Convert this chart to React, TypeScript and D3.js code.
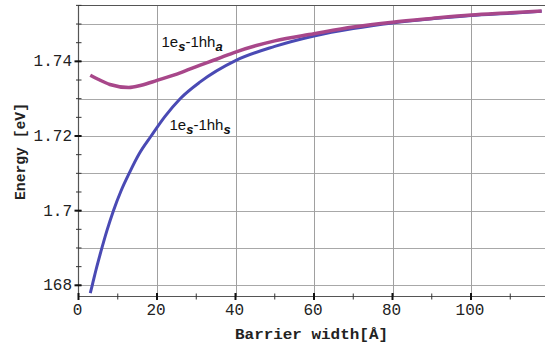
import React from "react";
import * as d3 from "d3";

// barrier width [Å] and transition energies [eV]
const symWidth = [3, 3.5, 4.5, 5.7, 7.2, 8.9, 10.8, 13, 15.5, 18.5, 22, 25.9, 31, 40, 50, 60, 70, 80, 90, 100, 110, 118];
const symEnergy = [1.6779, 1.68, 1.6843, 1.689, 1.6945, 1.7, 1.7052, 1.7102, 1.7153, 1.72, 1.7252, 1.73, 1.7345, 1.7402, 1.744, 1.7468, 1.7488, 1.7503, 1.7514, 1.7523, 1.7529, 1.7534];

const asymWidth = [3, 5, 8, 12.8, 16, 20, 25.9, 31, 35, 40, 50, 60, 70, 80, 90, 100, 110, 118];
const asymEnergy = [1.7363, 1.7352, 1.7338, 1.733, 1.7336, 1.7349, 1.7369, 1.739, 1.7405, 1.7425, 1.7455, 1.7474, 1.7492, 1.7505, 1.7515, 1.7524, 1.753, 1.7535];

const xLabels = [0, 20, 40, 60, 80, 100];
const yLabels = [1.68, 1.7, 1.72, 1.74];
const yLabelText = ["168", "1.7", "1.72", "1.74"];

const W = 545, H = 345;
const left = 78.5, top = 5, bottom = 296.5;

const mono = { fontFamily: "'Liberation Mono', 'Courier New', 'DejaVu Sans Mono', monospace" };
const sans = { fontFamily: "'Liberation Sans', Arial, sans-serif" };

export default function App() {
  const x = d3.scaleLinear().domain([0, 120]).range([left, left + 120 * 3.925]);
  const y = d3.scaleLinear().domain([1.677, 1.7551]).range([bottom, top]);

  const line = d3.line<[number, number]>()
    .curve(d3.curveMonotoneX)
    .x(d => x(d[0]))
    .y(d => y(d[1]));

  const symPts = symWidth.map((w, i) => [w, symEnergy[i]] as [number, number]);
  const asymPts = asymWidth.map((w, i) => [w, asymEnergy[i]] as [number, number]);

  const yMinor = d3.range(1.68, 1.7551, 0.005);
  const yGrid = d3.range(1.68, 1.751, 0.01);
  const xMinor = d3.range(10, 120, 10);
  const xGrid = [20, 40, 60, 80, 100];

  return (
    <svg width={W} height={H} style={{ position: "absolute", left: 0, top: 0, background: "#fff" }}>
      {/* grid */}
      {yGrid.map(v => (
        <line key={"gy" + v} x1={left} x2={W} y1={Math.round(y(v)) + 0.5} y2={Math.round(y(v)) + 0.5} stroke="#a8a8a8" strokeWidth={1} />
      ))}
      {xGrid.map(v => (
        <line key={"gx" + v} x1={Math.round(x(v)) + 0.5} x2={Math.round(x(v)) + 0.5} y1={top} y2={bottom} stroke="#a0a0a0" strokeWidth={1} />
      ))}
      {/* frame */}
      <line x1={left} x2={W} y1={top + 0.5} y2={top + 0.5} stroke="#555" strokeWidth={1.2} />
      <line x1={left} x2={left} y1={top} y2={bottom} stroke="#555" strokeWidth={1.2} />
      <line x1={left} x2={W} y1={bottom} y2={bottom} stroke="#555" strokeWidth={1.2} />

      {/* y ticks */}
      {yMinor.map(v => (
        <line key={"ty" + v} x1={left - 2.5} x2={left + 3} y1={y(v)} y2={y(v)} stroke="#333" strokeWidth={1} />
      ))}
      {yLabels.map((v, i) => (
        <g key={"yl" + v}>
          <line x1={left - 4} x2={left + 3} y1={y(v)} y2={y(v)} stroke="#111" strokeWidth={2} />
          <text x={72} y={y(v) + 5} textAnchor="end" style={mono} fontSize={16} fill="#222">{yLabelText[i]}</text>
        </g>
      ))}

      {/* x ticks */}
      {xMinor.map(v => (
        <line key={"tx" + v} x1={x(v)} x2={x(v)} y1={bottom - 3} y2={bottom + 3} stroke="#333" strokeWidth={1} />
      ))}
      {xLabels.map(v => (
        <g key={"xl" + v}>
          <line x1={x(v)} x2={x(v)} y1={bottom - 3.5} y2={bottom + 3.5} stroke="#111" strokeWidth={2} />
          <text x={x(v) - 1} y={315} textAnchor="middle" style={mono} fontSize={16} fill="#222">{v}</text>
        </g>
      ))}

      {/* axis titles */}
      <text x={235} y={339} style={mono} fontSize={14} fontWeight="bold" fill="#222" textLength={153} lengthAdjust="spacingAndGlyphs">Barrier width[Å]</text>
      <text transform="translate(25,151.5) rotate(-90)" textAnchor="middle" style={mono} fontSize={14} fontWeight="bold" fill="#222" textLength={97} lengthAdjust="spacingAndGlyphs">Energy [eV]</text>

      {/* curves */}
      <path d={line(symPts) || ""} fill="none" stroke="#4a4ab4" strokeWidth={3} />
      <path d={line(asymPts) || ""} fill="none" stroke="#a8478a" strokeWidth={3.5} />

      {/* curve labels */}
      <text x={161.5} y={46.5} style={sans} fontSize={15} fill="#111">
        1e<tspan dy={4} fontStyle="italic" fontWeight="bold" fontSize={13}>s</tspan>
        <tspan dy={-4}>-1hh</tspan>
        <tspan dy={4} fontStyle="italic" fontWeight="bold" fontSize={13}>a</tspan>
      </text>
      <text x={169.5} y={130} style={sans} fontSize={15} fill="#111">
        1e<tspan dy={4} fontStyle="italic" fontWeight="bold" fontSize={13}>s</tspan>
        <tspan dy={-4}>-1hh</tspan>
        <tspan dy={4} fontStyle="italic" fontWeight="bold" fontSize={13}>s</tspan>
      </text>
    </svg>
  );
}
